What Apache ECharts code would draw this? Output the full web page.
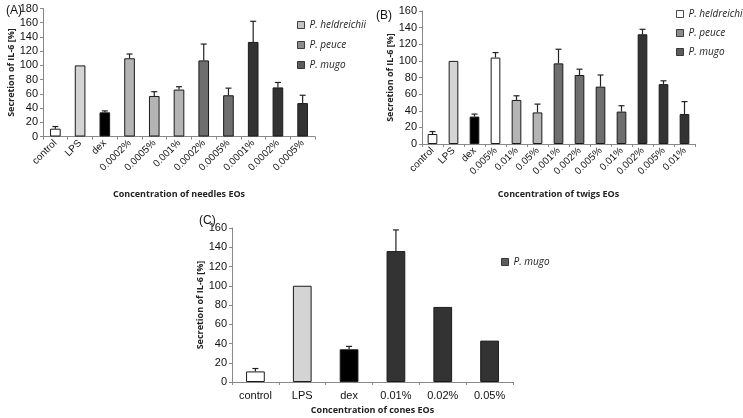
<!DOCTYPE html>
<html>
<head>
<meta charset="utf-8">
<script src="https://cdn.jsdelivr.net/npm/echarts@6/dist/echarts.min.js"></script>
<style>html,body{margin:0;padding:0;background:#fff}#c{width:743px;height:418px}</style>
</head>
<body>
<div id="c"></div>
<script>
// ---- data ----
const catsA = ['control','LPS','dex','0.0002%','0.0005%','0.001%','0.0002%','0.0005%','0.0001%','0.0002%','0.0005%'];
const valsA = [11, 100, 34, 110, 57, 66, 107, 58, 133, 69, 47];
const sdA   = [3, 0, 2, 6, 6, 4, 23, 10, 29, 7, 11];
const groupA = ['control','LPS','dex','heldreichii','heldreichii','heldreichii','peuce','peuce','mugo','mugo','mugo'];

const catsB = ['control','LPS','dex','0.005%','0.01%','0.05%','0.001%','0.002%','0.005%','0.01%','0.002%','0.005%','0.01%'];
const valsB = [12, 100, 33, 104, 53, 38, 97, 83, 69, 39, 132, 72, 36];
const sdB   = [3, 0, 3, 6, 5, 10, 17, 7, 14, 7, 6, 4, 15];
const groupB = ['control','LPS','dex','heldreichii','heldreichii','heldreichii','peuce','peuce','peuce','peuce','mugo','mugo','mugo'];

const catsC = ['control','LPS','dex','0.01%','0.02%','0.05%'];
const valsC = [11, 100, 34, 136, 78, 43];
const sdC   = [3, 0, 3, 22, 0, 0];

const yTicksA = {min: 0, max: 180, step: 20};
const yTicksBC = {min: 0, max: 160, step: 20};

const xNameA = 'Concentration of needles EOs';
const xNameB = 'Concentration of twigs EOs';
const xNameC = 'Concentration of cones EOs';
const yName = 'Secretion of IL-6 [%]';
const species = ['P. heldreichii', 'P. peuce', 'P. mugo'];

// ---- styles ----
const fillA = {control:'#ffffff', LPS:'#d4d4d4', dex:'#000000', heldreichii:'#b4b4b4', peuce:'#6e6e6e', mugo:'#333333'};
const fillB = ['#ffffff','#d4d4d4','#000000','#ffffff','#b4b4b4','#b4b4b4','#6e6e6e','#6e6e6e','#6e6e6e','#6e6e6e','#333333','#333333','#333333'];
const fillC = ['#ffffff','#d4d4d4','#000000','#333333','#333333','#333333'];
const border = '#1a1a1a';
const axisCol = '#888888';
const tickFont = 'Liberation Sans, Arial, sans-serif';
const nameFont = 'Open Sans, DejaVu Sans, sans-serif';

function barData(vals, colorFn) {
  return vals.map((v, i) => ({value: v, itemStyle: {color: colorFn(i), borderColor: border, borderWidth: 1}}));
}
function errData(vals, sds) {
  return vals.map((v, i) => [i, v, v + sds[i], sds[i]]);
}
function errSeries(idx, vals, sds) {
  return {
    type: 'custom', xAxisIndex: idx, yAxisIndex: idx, z: 3,
    data: errData(vals, sds),
    renderItem: function (params, api) {
      if (api.value(3) <= 0) return null;
      const p0 = api.coord([api.value(0), api.value(1)]);
      const p1 = api.coord([api.value(0), api.value(2)]);
      const w = 3;
      return {type: 'group', children: [
        {type: 'line', shape: {x1: p0[0], y1: p0[1], x2: p1[0], y2: p1[1]}, style: {stroke: '#222', lineWidth: 1.2}},
        {type: 'line', shape: {x1: p1[0] - w, y1: p1[1], x2: p1[0] + w, y2: p1[1]}, style: {stroke: '#222', lineWidth: 1.2}}
      ]};
    }
  };
}
function xAxis(idx, cats, name, rot, gap, fs) {
  return {
    type: 'category', gridIndex: idx, data: cats,
    name: name, nameLocation: 'middle', nameGap: gap,
    nameTextStyle: {fontFamily: nameFont, fontWeight: 'bold', fontSize: 9, color: '#222'},
    axisLine: {lineStyle: {color: axisCol}},
    axisTick: {show: true, length: 3, alignWithLabel: false, lineStyle: {color: axisCol}},
    axisLabel: {interval: 0, rotate: rot, fontFamily: tickFont, fontSize: fs, color: '#111', margin: rot ? 5 : 8}
  };
}
function yAxis(idx, t, gap) {
  return {
    type: 'value', gridIndex: idx, min: t.min, max: t.max, interval: t.step,
    name: yName, nameLocation: 'middle', nameGap: gap, nameRotate: 90,
    nameTextStyle: {fontFamily: nameFont, fontWeight: 'bold', fontSize: 9, color: '#222'},
    axisLine: {show: true, lineStyle: {color: axisCol}},
    axisTick: {show: true, length: 3, lineStyle: {color: axisCol}},
    splitLine: {show: false},
    axisLabel: {fontFamily: tickFont, fontSize: 11, color: '#111', margin: 5}
  };
}
function legendData(colors) {
  return species.map((s, i) => ({name: s, itemStyle: {color: colors[i], borderColor: border, borderWidth: 1}}));
}
const legendText = {fontFamily: nameFont, fontStyle: 'italic', fontSize: 10, color: '#222', lineHeight: 12};

const chart = echarts.init(document.getElementById('c'), null, {renderer: 'canvas'});
chart.setOption({
  animation: false,
  backgroundColor: '#fff',
  title: [
    {text: '(A)', left: 1, top: 0, textStyle: {fontFamily: tickFont, fontSize: 12, fontWeight: 'normal', color: '#111'}},
    {text: '(B)', left: 371, top: 5, textStyle: {fontFamily: tickFont, fontSize: 12, fontWeight: 'normal', color: '#111'}},
    {text: '(C)', left: 194, top: 210, textStyle: {fontFamily: tickFont, fontSize: 12, fontWeight: 'normal', color: '#111'}}
  ],
  grid: [
    {left: 43, top: 8.5, width: 272, height: 128, containLabel: false, outerBoundsMode: 'none'},
    {left: 422, top: 11, width: 273, height: 133, containLabel: false, outerBoundsMode: 'none'},
    {left: 232, top: 228, width: 281, height: 154, containLabel: false, outerBoundsMode: 'none'}
  ],
  xAxis: [
    xAxis(0, catsA, xNameA, 45, 53, 10),
    xAxis(1, catsB, xNameB, 45, 46, 10),
    xAxis(2, catsC, xNameC, 0, 24, 11)
  ],
  yAxis: [yAxis(0, yTicksA, 27), yAxis(1, yTicksBC, 27), yAxis(2, yTicksBC, 26)],
  legend: [
    {orient: 'vertical', left: 292, top: 14, icon: 'rect', itemWidth: 7, itemHeight: 7, itemGap: 8, textStyle: legendText,
     data: legendData(['#b4b4b4', '#6e6e6e', '#333333']), selectedMode: false},
    {orient: 'vertical', left: 671, top: 3, icon: 'rect', itemWidth: 7, itemHeight: 7, itemGap: 7, textStyle: legendText,
     data: legendData(['#ffffff', '#6e6e6e', '#333333']), selectedMode: false},
    {orient: 'vertical', left: 496, top: 251, icon: 'rect', itemWidth: 7, itemHeight: 7, itemGap: 8, textStyle: legendText,
     data: [{name: species[2], itemStyle: {color: '#333333', borderColor: border, borderWidth: 1}}], selectedMode: false}
  ],
  series: [
    {type: 'bar', xAxisIndex: 0, yAxisIndex: 0, barWidth: '43%', data: barData(valsA, i => fillA[groupA[i]])},
    {type: 'bar', xAxisIndex: 1, yAxisIndex: 1, barWidth: '46%', data: barData(valsB, i => fillB[i])},
    {type: 'bar', xAxisIndex: 2, yAxisIndex: 2, barWidth: '40%', data: barData(valsC, i => fillC[i])},
    errSeries(0, valsA, sdA),
    errSeries(1, valsB, sdB),
    errSeries(2, valsC, sdC),
    {type: 'scatter', name: species[0], xAxisIndex: 0, yAxisIndex: 0, data: []},
    {type: 'scatter', name: species[1], xAxisIndex: 0, yAxisIndex: 0, data: []},
    {type: 'scatter', name: species[2], xAxisIndex: 0, yAxisIndex: 0, data: []}
  ]
});
</script>
</body>
</html>
